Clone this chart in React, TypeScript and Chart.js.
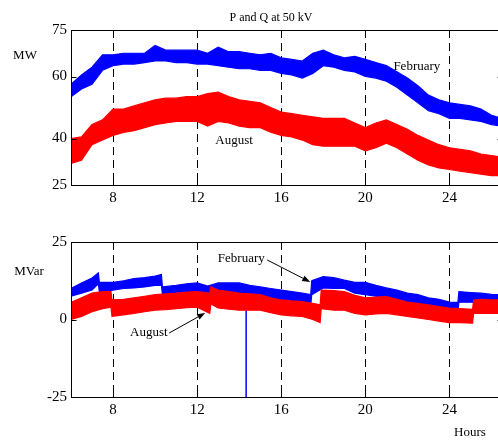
import { useEffect, useRef } from "react";
import { Chart, registerables } from "chart.js";
Chart.register(...registerables);

const xTicks = [8, 12, 16, 20, 24];
const pTicks = [25, 40, 60, 75];
const qTicks = [-25, 0, 25];

// P (MW) — February, band read as low/high envelope of the noisy trace
const febPHours = [6, 6.5, 7, 7.5, 8, 8.5, 9, 9.5, 10, 10.5, 11, 11.5, 12, 12.5, 13, 13.5, 14, 14.5, 15, 15.5, 16, 16.5, 17, 17.5, 18, 18.5, 19, 19.5, 20, 20.5, 21, 21.5, 22, 22.5, 23, 23.5, 24, 24.5, 25, 25.5, 26, 26.5];
const febPLow = [53.5, 56, 57.5, 62, 63.5, 64, 64, 64.5, 65, 65, 64.5, 64.5, 64, 64, 63.5, 63, 62.5, 62.5, 62, 62, 61, 60.5, 59.5, 61, 63.5, 63, 62, 61.5, 60, 59.5, 58.5, 56.5, 54, 51.5, 49, 48, 46.5, 46.5, 46, 45.5, 44.5, 44];
const febPHigh = [57.5, 60.5, 63, 67, 67, 67.5, 67.5, 67.5, 70, 68.5, 68.5, 68.5, 68.5, 67.5, 69.5, 68, 68, 67.5, 67, 67.5, 66, 65.5, 65, 67.5, 68.5, 67, 66, 66.5, 65.5, 64.5, 63.5, 61.5, 59.5, 57, 54, 52.5, 51.5, 51, 50.5, 49.5, 47.5, 46.5];

// P (MW) — August
const augPHours = [6, 6.5, 7, 7.5, 8, 8.5, 9, 9.5, 10, 10.5, 11, 11.5, 12, 12.5, 13, 13.5, 14, 14.5, 15, 15.5, 16, 16.5, 17, 17.5, 18, 18.5, 19, 19.5, 20, 20.5, 21, 21.5, 22, 22.5, 23, 23.5, 24, 24.5, 25, 25.5, 26, 26.5];
const augPLow = [32, 33, 38, 39.5, 41, 42, 42.5, 43.5, 44.5, 45, 45.5, 45.5, 45.5, 44, 45.5, 45, 44, 43.5, 43.5, 42, 41, 40.5, 39.5, 38, 37.5, 37.5, 37.5, 37.5, 36, 37, 38.5, 37, 35, 33, 31.5, 30.5, 30, 29.5, 29, 28.5, 28, 28];
const augPHigh = [40, 40.5, 44.5, 46, 49.5, 49.5, 50.5, 51.5, 52.5, 53, 53, 53.5, 53.5, 54.5, 55, 53.5, 52.5, 52, 51.5, 50, 48.5, 48, 47.5, 47, 46.5, 46.5, 46.5, 45, 43.5, 45, 46, 44.5, 43, 41, 39.5, 38, 37, 36.5, 36, 35, 34.5, 34];

// Q (MVar) — February
const febQHours = [6, 6.5, 7, 7.3, 7.35, 7.5, 8, 8.5, 9, 9.5, 10, 10.3, 10.35, 11, 11.5, 12, 12.5, 13, 13.5, 14, 14.5, 15, 15.5, 16, 16.5, 17, 17.4, 17.45, 18, 18.5, 19, 19.5, 20, 20.5, 21, 21.5, 22, 22.5, 23, 23.5, 24, 24.4, 24.45, 25, 25.5, 26, 26.5];
const febQLow = [7.5, 8.5, 9.5, 11.5, 9, 9, 9.5, 10, 10.2, 10.5, 11, 11, 8, 8.5, 8.5, 8.5, 8, 8.5, 8.2, 8, 7.8, 7.3, 6.5, 5.6, 5, 4.7, 4.5, 8, 10.2, 10, 10, 8.5, 8, 7.5, 7, 6, 5.3, 4.5, 3.7, 3, 2.4, 2.2, 5.6, 5.6, 5.5, 5.3, 5];
const febQHigh = [10, 11.8, 13.4, 15, 12, 12, 12, 12.5, 13.2, 13.5, 14, 14.5, 10.5, 11, 11.5, 11.8, 10.8, 11.8, 11.8, 11.8, 11, 10.5, 10, 9.5, 9, 8.5, 8, 12.5, 13.8, 13.5, 12.7, 12, 12, 11, 10.2, 9.5, 8.5, 8, 7, 6.5, 5.6, 5.5, 9, 8.7, 8.5, 8.1, 8];

// Q (MVar) — August
const augQHours = [6, 6.5, 7, 7.5, 7.9, 7.95, 8.5, 9, 9.5, 10, 10.5, 11, 11.5, 12, 12.6, 12.65, 13, 13.5, 14, 14.5, 15, 15.5, 16, 16.5, 17, 17.5, 17.85, 17.9, 18.5, 19, 19.5, 20, 20.5, 21, 21.5, 22, 22.5, 23, 23.5, 24, 24.5, 25.1, 25.15, 25.5, 26, 26.5];
const augQLow = [0, 1, 2.5, 3.5, 4, 1, 1.5, 2, 2.5, 3, 3.2, 3.5, 3.8, 4, 2, 5, 3.7, 3.3, 3, 3, 3, 2.2, 1.5, 1.2, 1, 0, -1, 3.5, 3, 3, 2, 1.5, 1.8, 2, 1.5, 1, 0.5, 0, -0.5, -1, -1, -1.2, 2, 2, 2, 2];
const augQHigh = [5.5, 7, 8.5, 9, 9, 6.3, 6.5, 7, 7.5, 8, 8.3, 8.5, 8.8, 9, 8.5, 10.5, 9.5, 9, 8.5, 8.3, 8, 7, 6.3, 6, 5.8, 5.2, 4.7, 9.5, 9.3, 9, 7.8, 7, 7.2, 7.4, 6.5, 5.6, 5.2, 4.7, 4.2, 3.7, 3.5, 3.3, 6.3, 6.5, 6.3, 6.3];

// Dropout spike in February Q
const spikeHours = [14.33, 14.33];
const spikeValues = [8, -25];

const BLUE = "#0000ff";
const RED = "#ff0000";
const FONT = "'Liberation Serif', 'Times New Roman', serif";

function band(hours: number[], low: number[], high: number[], color: string) {
  return [
    { data: hours.map((h, i) => ({ x: h, y: low[i] })), borderColor: color, backgroundColor: color, borderWidth: 1.2, pointRadius: 0, fill: false, tension: 0 },
    { data: hours.map((h, i) => ({ x: h, y: high[i] })), borderColor: color, backgroundColor: color, borderWidth: 1.2, pointRadius: 0, fill: "-1", tension: 0 },
  ];
}

type Txt = { text: string; x: number; y: number; size: number; data?: boolean };
type Arrow = { x1: number; y1: number; x2: number; y2: number };

function framePlugin(texts: Txt[], arrows: Arrow[], yTickVals: number[]) {
  return {
    id: "frame",
    beforeDatasetsDraw(chart: any) {
      const { ctx, chartArea: a, scales } = chart;
      ctx.save();
      ctx.strokeStyle = "#000";
      ctx.lineWidth = 1;
      ctx.setLineDash([8, 5]);
      xTicks.forEach((v) => {
        const px = Math.round(scales.x.getPixelForValue(v)) + 0.5;
        ctx.beginPath();
        ctx.moveTo(px, a.top);
        ctx.lineTo(px, a.bottom);
        ctx.stroke();
      });
      ctx.restore();
    },
    afterDraw(chart: any) {
      const { ctx, chartArea: a, scales } = chart;
      ctx.save();
      ctx.strokeStyle = "#000";
      ctx.lineWidth = 1;
      ctx.setLineDash([]);
      const l = Math.round(a.left) + 0.5, r = Math.round(a.right) + 0.5, t = Math.round(a.top) + 0.5, b = Math.round(a.bottom) + 0.5;
      ctx.strokeRect(l, t, r - l, b - t);
      const tl = 5;
      ctx.beginPath();
      xTicks.forEach((v) => {
        const px = Math.round(scales.x.getPixelForValue(v)) + 0.5;
        ctx.moveTo(px, b); ctx.lineTo(px, b - tl);
        ctx.moveTo(px, t); ctx.lineTo(px, t + tl);
      });
      yTickVals.forEach((v) => {
        const py = Math.round(scales.y.getPixelForValue(v)) + 0.5;
        ctx.moveTo(l, py); ctx.lineTo(l + tl, py);
        ctx.moveTo(r, py); ctx.lineTo(r - tl, py);
      });
      ctx.stroke();

      ctx.fillStyle = "#000";
      ctx.textAlign = "center";
      ctx.textBaseline = "middle";
      texts.forEach((tx) => {
        ctx.font = `${tx.size}px ${FONT}`;
        const px = tx.data ? scales.x.getPixelForValue(tx.x) : tx.x;
        const py = tx.data ? scales.y.getPixelForValue(tx.y) : tx.y;
        ctx.fillText(tx.text, px, py);
      });

      arrows.forEach((ar) => {
        const x1 = scales.x.getPixelForValue(ar.x1), y1 = scales.y.getPixelForValue(ar.y1);
        const x2 = scales.x.getPixelForValue(ar.x2), y2 = scales.y.getPixelForValue(ar.y2);
        const ang = Math.atan2(y2 - y1, x2 - x1);
        const hl = 8, hw = 3;
        const bx = x2 - hl * Math.cos(ang), by = y2 - hl * Math.sin(ang);
        ctx.beginPath();
        ctx.moveTo(x1, y1);
        ctx.lineTo(bx, by);
        ctx.stroke();
        ctx.beginPath();
        ctx.moveTo(x2, y2);
        ctx.lineTo(bx + hw * Math.sin(ang), by - hw * Math.cos(ang));
        ctx.lineTo(bx - hw * Math.sin(ang), by + hw * Math.cos(ang));
        ctx.closePath();
        ctx.fill();
      });
      ctx.restore();
    },
  };
}

function makeOptions(yMin: number, yMax: number, yTickVals: number[], xAxisHeight: number, padTop: number) {
  return {
    animation: false,
    responsive: false,
    maintainAspectRatio: false,
    layout: { padding: { top: padTop, right: 18, left: 0, bottom: 0 } },
    plugins: { legend: { display: false }, tooltip: { enabled: false }, title: { display: false } },
    elements: { line: { tension: 0 } },
    scales: {
      x: {
        type: "linear",
        min: 6,
        max: 26.5,
        grid: { display: false, drawTicks: false },
        border: { display: false },
        afterBuildTicks: (s: any) => { s.ticks = xTicks.map((v) => ({ value: v })); },
        afterFit: (s: any) => { s.height = xAxisHeight; },
        ticks: { color: "#000", padding: 4, maxRotation: 0, font: { family: FONT, size: 15 }, callback: (v: any) => String(v) },
      },
      y: {
        type: "linear",
        min: yMin,
        max: yMax,
        grid: { display: false, drawTicks: false },
        border: { display: false },
        afterBuildTicks: (s: any) => { s.ticks = yTickVals.map((v) => ({ value: v })); },
        afterFit: (s: any) => { s.width = 71; },
        ticks: { color: "#000", padding: 4, font: { family: FONT, size: 15 }, callback: (v: any) => String(v) },
      },
    },
  };
}

export default function App() {
  const topRef = useRef<HTMLCanvasElement | null>(null);
  const botRef = useRef<HTMLCanvasElement | null>(null);

  useEffect(() => {
    const top = new Chart(topRef.current as HTMLCanvasElement, {
      type: "line",
      data: {
        datasets: [
          ...band(augPHours, augPLow, augPHigh, RED),
          ...band(febPHours, febPLow, febPHigh, BLUE),
        ],
      } as any,
      options: makeOptions(25, 75, pTicks, 30, 30) as any,
      plugins: [
        framePlugin(
          [
            { text: "P and Q at 50 kV", x: 271, y: 18, size: 12 },
            { text: "MW", x: 25, y: 56, size: 13 },
            { text: "February", x: 22.45, y: 63.1, size: 13, data: true },
            { text: "August", x: 13.76, y: 39.2, size: 13, data: true },
          ],
          [],
          pTicks
        ) as any,
      ],
    });

    const bot = new Chart(botRef.current as HTMLCanvasElement, {
      type: "line",
      data: {
        datasets: [
          ...band(augQHours, augQLow, augQHigh, RED),
          ...band(febQHours, febQLow, febQHigh, BLUE),
          { data: spikeHours.map((h, i) => ({ x: h, y: spikeValues[i] })), borderColor: BLUE, borderWidth: 1.5, pointRadius: 0, fill: false },
        ],
      } as any,
      options: makeOptions(-25, 25, qTicks, 46, 22) as any,
      plugins: [
        framePlugin(
          [
            { text: "MVar", x: 29, y: 52, size: 13 },
            { text: "Hours", x: 470, y: 213, size: 13 },
            { text: "February", x: 14.1, y: 19.8, size: 13, data: true },
            { text: "August", x: 9.7, y: -4.35, size: 13, data: true },
          ],
          [
            { x1: 15.33, y1: 19.2, x2: 17.38, y2: 12.1 },
            { x1: 10.67, y1: -4.35, x2: 12.38, y2: 2.1 },
          ],
          qTicks
        ) as any,
      ],
    });

    return () => {
      top.destroy();
      bot.destroy();
    };
  }, []);

  return (
    <div style={{ position: "fixed", left: 0, top: 0, width: 498, height: 443, overflow: "hidden", background: "#fff" }}>
      <canvas ref={topRef} width={520} height={215} style={{ position: "absolute", left: 0, top: 0, width: 520, height: 215 }} />
      <canvas ref={botRef} width={520} height={223} style={{ position: "absolute", left: 0, top: 220, width: 520, height: 223 }} />
    </div>
  );
}
